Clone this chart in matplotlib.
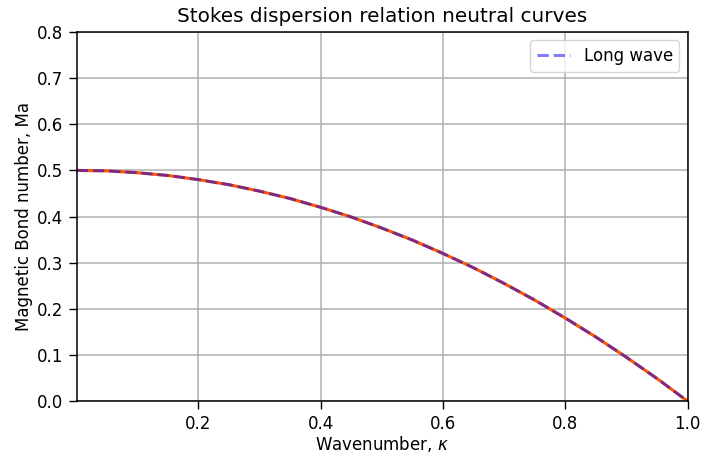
import numpy as np
import matplotlib.pyplot as plt

# wavenumber and neutral Ma
kappa = [0.001, 0.05, 0.10, 0.15, 0.20, 0.25, 0.30, 0.35, 0.40, 0.45, 0.50,
         0.55, 0.60, 0.65, 0.70, 0.75, 0.80, 0.85, 0.90, 0.95, 1.00]
ma_full = [0.500, 0.499, 0.495, 0.489, 0.480, 0.469, 0.455, 0.439, 0.420, 0.399, 0.375,
           0.349, 0.320, 0.289, 0.255, 0.219, 0.180, 0.139, 0.095, 0.049, 0.000]
ma_long = list(ma_full)

plt.rcParams['font.size'] = 12
plt.rcParams['xtick.major.size'] = 6
plt.rcParams['ytick.major.size'] = 6
plt.rcParams['xtick.major.width'] = 1
plt.rcParams['ytick.major.width'] = 1
plt.rcParams['axes.linewidth'] = 1.1
plt.rcParams['grid.linewidth'] = 1.1

fig = plt.figure(figsize=(7.04, 4.55), dpi=100)
ax = fig.add_axes([0.109, 0.118, 0.868, 0.812])

ax.plot(kappa, ma_full, color='#ff5500', lw=2.2)
ax.plot(kappa, ma_long, 'b--', alpha=0.5, lw=2.2, label='Long wave')

ax.set_xlim(kappa[0], 1.0)
ax.set_ylim(0, 0.8)
ax.set_xticks([0.2, 0.4, 0.6, 0.8, 1.0])
ax.set_yticks(np.arange(0, 0.81, 0.1))
ax.grid(True)
ax.set_xlabel(r'Wavenumber, $\kappa$', labelpad=1)
ax.set_ylabel('Magnetic Bond number, Ma', labelpad=3)
ax.set_title('Stokes dispersion relation neutral curves', fontsize=14.4, pad=7)
ax.legend(loc='upper right')

fig.savefig('out.png', dpi=100)
